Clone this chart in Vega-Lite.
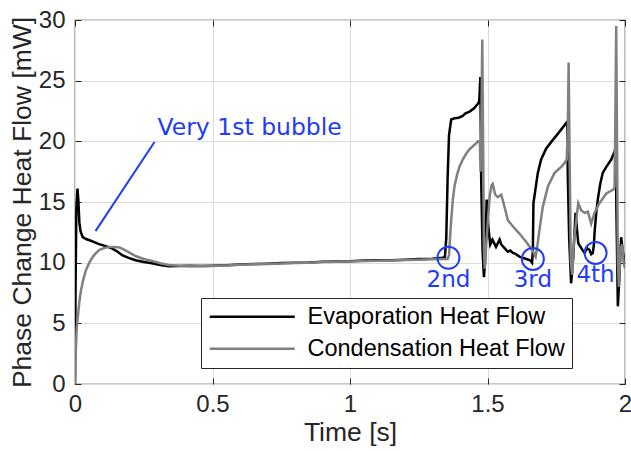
{
  "$schema": "https://vega.github.io/schema/vega-lite/v6.json",
  "autosize": {"type": "none"},
  "padding": {"left": 75, "top": 20, "right": 6, "bottom": 67},
  "width": 550,
  "height": 364,
  "background": "white",
  "datasets": {
    "evap": [
      {"t":0,"v":0},{"t":0.002,"v":8},{"t":0.005,"v":14.5},{"t":0.009,"v":16.1},{"t":0.012,"v":15.2},{"t":0.016,"v":13.3},{"t":0.02,"v":12.6},{"t":0.028,"v":12.1},{"t":0.04,"v":11.95},{"t":0.053,"v":11.85},{"t":0.07,"v":11.7},{"t":0.085,"v":11.55},{"t":0.1,"v":11.45},{"t":0.12,"v":11.3},{"t":0.136,"v":11.15},{"t":0.155,"v":10.9},{"t":0.173,"v":10.6},{"t":0.195,"v":10.4},{"t":0.22,"v":10.2},{"t":0.25,"v":10.05},{"t":0.28,"v":9.95},{"t":0.31,"v":9.8},{"t":0.34,"v":9.7},{"t":0.38,"v":9.72},{"t":0.42,"v":9.75},{"t":0.46,"v":9.73},{"t":0.5,"v":9.75},{"t":0.55,"v":9.78},{"t":0.6,"v":9.85},{"t":0.65,"v":9.88},{"t":0.7,"v":9.92},{"t":0.75,"v":9.97},{"t":0.8,"v":10.0},{"t":0.85,"v":10.02},{"t":0.9,"v":10.08},{"t":0.95,"v":10.1},{"t":1.0,"v":10.12},{"t":1.05,"v":10.18},{"t":1.1,"v":10.2},{"t":1.15,"v":10.2},{"t":1.2,"v":10.25},{"t":1.25,"v":10.3},{"t":1.3,"v":10.32},{"t":1.336,"v":10.4},{"t":1.345,"v":10.45},{"t":1.35,"v":12},{"t":1.355,"v":17},{"t":1.36,"v":20.5},{"t":1.368,"v":21.8},{"t":1.38,"v":21.9},{"t":1.395,"v":21.95},{"t":1.41,"v":22.1},{"t":1.42,"v":22.3},{"t":1.435,"v":22.45},{"t":1.45,"v":22.7},{"t":1.465,"v":23.1},{"t":1.47,"v":23.3},{"t":1.474,"v":25.3},{"t":1.477,"v":17},{"t":1.482,"v":11},{"t":1.487,"v":8.8},{"t":1.491,"v":10},{"t":1.497,"v":15.2},{"t":1.503,"v":13},{"t":1.51,"v":11.5},{"t":1.518,"v":11.9},{"t":1.531,"v":11.3},{"t":1.544,"v":11.9},{"t":1.55,"v":11.5},{"t":1.562,"v":11.2},{"t":1.574,"v":10.9},{"t":1.583,"v":11.0},{"t":1.592,"v":10.8},{"t":1.6,"v":10.75},{"t":1.616,"v":10.5},{"t":1.641,"v":10.3},{"t":1.655,"v":10.2},{"t":1.662,"v":10.0},{"t":1.665,"v":11},{"t":1.667,"v":14.9},{"t":1.683,"v":17.4},{"t":1.695,"v":18.5},{"t":1.713,"v":19.4},{"t":1.737,"v":20.1},{"t":1.762,"v":20.8},{"t":1.786,"v":21.5},{"t":1.79,"v":21.6},{"t":1.792,"v":17.1},{"t":1.797,"v":12},{"t":1.804,"v":8.3},{"t":1.812,"v":10.5},{"t":1.82,"v":14.1},{"t":1.83,"v":11.6},{"t":1.845,"v":11.05},{"t":1.853,"v":10.8},{"t":1.862,"v":11.2},{"t":1.871,"v":11.05},{"t":1.877,"v":10.7},{"t":1.883,"v":10.8},{"t":1.887,"v":11.5},{"t":1.889,"v":12.4},{"t":1.895,"v":14},{"t":1.901,"v":15.2},{"t":1.91,"v":16.5},{"t":1.919,"v":17.4},{"t":1.932,"v":17.9},{"t":1.95,"v":18.5},{"t":1.962,"v":19.15},{"t":1.966,"v":19.5},{"t":1.969,"v":14},{"t":1.974,"v":6.4},{"t":1.98,"v":9},{"t":1.986,"v":12.1},{"t":1.993,"v":10.8},{"t":2.0,"v":9.9}
    ],
    "cond": [
      {"t":0,"v":0},{"t":0.001,"v":1},{"t":0.003,"v":2.8},{"t":0.006,"v":4.5},{"t":0.01,"v":5.5},{"t":0.016,"v":6.8},{"t":0.022,"v":7.75},{"t":0.03,"v":8.6},{"t":0.04,"v":9.4},{"t":0.052,"v":10.0},{"t":0.065,"v":10.5},{"t":0.077,"v":10.8},{"t":0.089,"v":11.05},{"t":0.105,"v":11.2},{"t":0.125,"v":11.3},{"t":0.145,"v":11.3},{"t":0.162,"v":11.25},{"t":0.18,"v":11.05},{"t":0.2,"v":10.8},{"t":0.22,"v":10.55},{"t":0.25,"v":10.3},{"t":0.28,"v":10.15},{"t":0.31,"v":9.95},{"t":0.34,"v":9.8},{"t":0.38,"v":9.75},{"t":0.42,"v":9.73},{"t":0.46,"v":9.72},{"t":0.5,"v":9.73},{"t":0.55,"v":9.77},{"t":0.6,"v":9.83},{"t":0.65,"v":9.86},{"t":0.7,"v":9.9},{"t":0.75,"v":9.93},{"t":0.8,"v":9.97},{"t":0.85,"v":10.0},{"t":0.9,"v":10.05},{"t":0.95,"v":10.07},{"t":1.0,"v":10.1},{"t":1.05,"v":10.13},{"t":1.1,"v":10.16},{"t":1.15,"v":10.18},{"t":1.2,"v":10.22},{"t":1.25,"v":10.25},{"t":1.3,"v":10.28},{"t":1.34,"v":10.3},{"t":1.355,"v":10.3},{"t":1.36,"v":10.6},{"t":1.365,"v":12.5},{"t":1.368,"v":13.5},{"t":1.374,"v":15.2},{"t":1.38,"v":16.3},{"t":1.39,"v":17.3},{"t":1.398,"v":17.9},{"t":1.41,"v":18.5},{"t":1.423,"v":19.0},{"t":1.435,"v":19.35},{"t":1.447,"v":19.6},{"t":1.457,"v":19.8},{"t":1.465,"v":20.0},{"t":1.472,"v":20.0},{"t":1.475,"v":17.5},{"t":1.478,"v":22},{"t":1.481,"v":28.4},{"t":1.484,"v":20},{"t":1.487,"v":11},{"t":1.49,"v":9.5},{"t":1.494,"v":11},{"t":1.5,"v":13},{"t":1.508,"v":15.5},{"t":1.515,"v":16.4},{"t":1.519,"v":16.5},{"t":1.528,"v":15.6},{"t":1.537,"v":15.4},{"t":1.55,"v":15.6},{"t":1.562,"v":14.6},{"t":1.574,"v":13.5},{"t":1.592,"v":13.0},{"t":1.616,"v":12.4},{"t":1.641,"v":11.7},{"t":1.662,"v":11.05},{"t":1.675,"v":10.5},{"t":1.682,"v":11.5},{"t":1.689,"v":12.7},{"t":1.701,"v":14.6},{"t":1.72,"v":16.3},{"t":1.744,"v":17.4},{"t":1.768,"v":17.9},{"t":1.78,"v":18.2},{"t":1.788,"v":18.5},{"t":1.792,"v":21},{"t":1.795,"v":26.5},{"t":1.799,"v":18},{"t":1.803,"v":10},{"t":1.808,"v":9},{"t":1.815,"v":12},{"t":1.83,"v":14.9},{"t":1.841,"v":14.3},{"t":1.853,"v":14.1},{"t":1.865,"v":14.2},{"t":1.877,"v":13.2},{"t":1.889,"v":14.1},{"t":1.907,"v":14.9},{"t":1.932,"v":15.7},{"t":1.956,"v":16.0},{"t":1.962,"v":16.2},{"t":1.965,"v":22},{"t":1.968,"v":29.5},{"t":1.971,"v":20},{"t":1.974,"v":10},{"t":1.978,"v":8},{"t":1.983,"v":11},{"t":1.99,"v":11.5},{"t":1.995,"v":10},{"t":2.0,"v":9.5}
    ],
    "circles": [
      {"t":1.358,"v":10.4,"label":"2nd","lv":8.6},
      {"t":1.665,"v":10.3,"label":"3rd","lv":8.6},
      {"t":1.893,"v":10.8,"label":"4th","lv":9.0}
    ]
  },
  "layer": [
    {
      "layer": [
        {
          "data": {"name": "evap"},
          "transform": [{"calculate": "'Evaporation Heat Flow'", "as": "series"}],
          "mark": {"type": "line", "strokeWidth": 2.5, "clip": true},
          "encoding": {
            "x": {"field": "t", "type": "quantitative", "scale": {"domain": [0, 2], "nice": false},
              "axis": {"values": [0, 0.5, 1, 1.5, 2], "format": ".1~f", "title": "Time [s]"}},
            "y": {"field": "v", "type": "quantitative", "scale": {"domain": [0, 30], "nice": false},
              "axis": {"values": [0, 5, 10, 15, 20, 25, 30], "title": "Phase Change Heat Flow [mW]"}},
            "color": {"field": "series", "type": "nominal",
              "scale": {"domain": ["Evaporation Heat Flow", "Condensation Heat Flow"], "range": ["#000000", "#808080"]},
              "legend": {"title": null}},
            "order": {"field": "t", "type": "quantitative"}
          }
        },
        {
          "data": {"name": "cond"},
          "transform": [{"calculate": "'Condensation Heat Flow'", "as": "series"}],
          "mark": {"type": "line", "strokeWidth": 2.5, "clip": true},
          "encoding": {
            "x": {"field": "t", "type": "quantitative"},
            "y": {"field": "v", "type": "quantitative"},
            "color": {"field": "series", "type": "nominal"},
            "order": {"field": "t", "type": "quantitative"}
          }
        },
        {
          "data": {"values": [{"t1": 0.0745, "v1": 12.6, "t2": 0.289, "v2": 19.95}]},
          "mark": {"type": "rule", "color": "#1f3cf5", "strokeWidth": 2},
          "encoding": {
            "x": {"field": "t1", "type": "quantitative"},
            "y": {"field": "v1", "type": "quantitative"},
            "x2": {"field": "t2"},
            "y2": {"field": "v2"}
          }
        },
        {
          "data": {"values": [{"t": 0.3, "v": 21.1, "txt": "Very 1st bubble"}]},
          "mark": {"type": "text", "align": "left", "baseline": "middle", "font": "DejaVu Sans", "fontSize": 23.5, "color": "#1f3cf5"},
          "encoding": {
            "x": {"field": "t", "type": "quantitative"},
            "y": {"field": "v", "type": "quantitative"},
            "text": {"field": "txt"}
          }
        },
        {
          "data": {"name": "circles"},
          "mark": {"type": "point", "shape": "circle", "filled": false, "size": 484, "strokeWidth": 2, "color": "#1f3cf5", "opacity": 1},
          "encoding": {
            "x": {"field": "t", "type": "quantitative"},
            "y": {"field": "v", "type": "quantitative"}
          }
        },
        {
          "data": {"name": "circles"},
          "mark": {"type": "text", "align": "center", "baseline": "middle", "font": "DejaVu Sans", "fontSize": 23, "color": "#1f3cf5"},
          "encoding": {
            "x": {"field": "t", "type": "quantitative"},
            "y": {"field": "lv", "type": "quantitative"},
            "text": {"field": "label"}
          }
        }
      ]
    },
    {
      "data": {"values": [{"t": 0, "v": 0}]},
      "mark": {"type": "point", "opacity": 0},
      "encoding": {
        "x": {"field": "t", "type": "quantitative", "scale": {"domain": [0, 2], "nice": false},
          "axis": {"orient": "top", "values": [0, 0.5, 1, 1.5, 2], "labels": false, "grid": false, "title": null}},
        "y": {"field": "v", "type": "quantitative", "scale": {"domain": [0, 30], "nice": false},
          "axis": {"orient": "right", "values": [0, 5, 10, 15, 20, 25, 30], "labels": false, "grid": false, "title": null}}
      }
    }
  ],
  "resolve": {"scale": {"x": "independent", "y": "independent"}},
  "config": {
    "view": {"stroke": "#262626", "strokeWidth": 1.2},
    "font": "Liberation Sans",
    "axis": {
      "domain": false,
      "grid": true,
      "gridColor": "#dcdcdc",
      "gridWidth": 1,
      "tickSize": -6,
      "tickColor": "#262626",
      "tickWidth": 1,
      "labelFlush": false,
      "labelFont": "Liberation Sans",
      "labelFontSize": 24,
      "labelColor": "#262626",
      "titleFont": "Liberation Sans",
      "titleFontSize": 26.5,
      "titleFontWeight": "normal",
      "titleColor": "#262626"
    },
    "axisX": {"labelPadding": 14, "titlePadding": 3},
    "axisY": {"labelPadding": 16, "titlePadding": 2},
    "legend": {
      "orient": "none",
      "legendX": 126,
      "legendY": 278,
      "direction": "vertical",
      "strokeColor": "#262626",
      "fillColor": "white",
      "padding": 7,
      "rowPadding": 7,
      "labelFont": "Liberation Sans",
      "labelFontSize": 23.5,
      "labelColor": "#000000",
      "labelLimit": 400,
      "symbolType": "M-1,0L7.5,0",
      "symbolSize": 400,
      "symbolStrokeWidth": 2.5,
      "labelOffset": 76,
      "labelExpr": "datum.label + '     '"
    }
  }
}
